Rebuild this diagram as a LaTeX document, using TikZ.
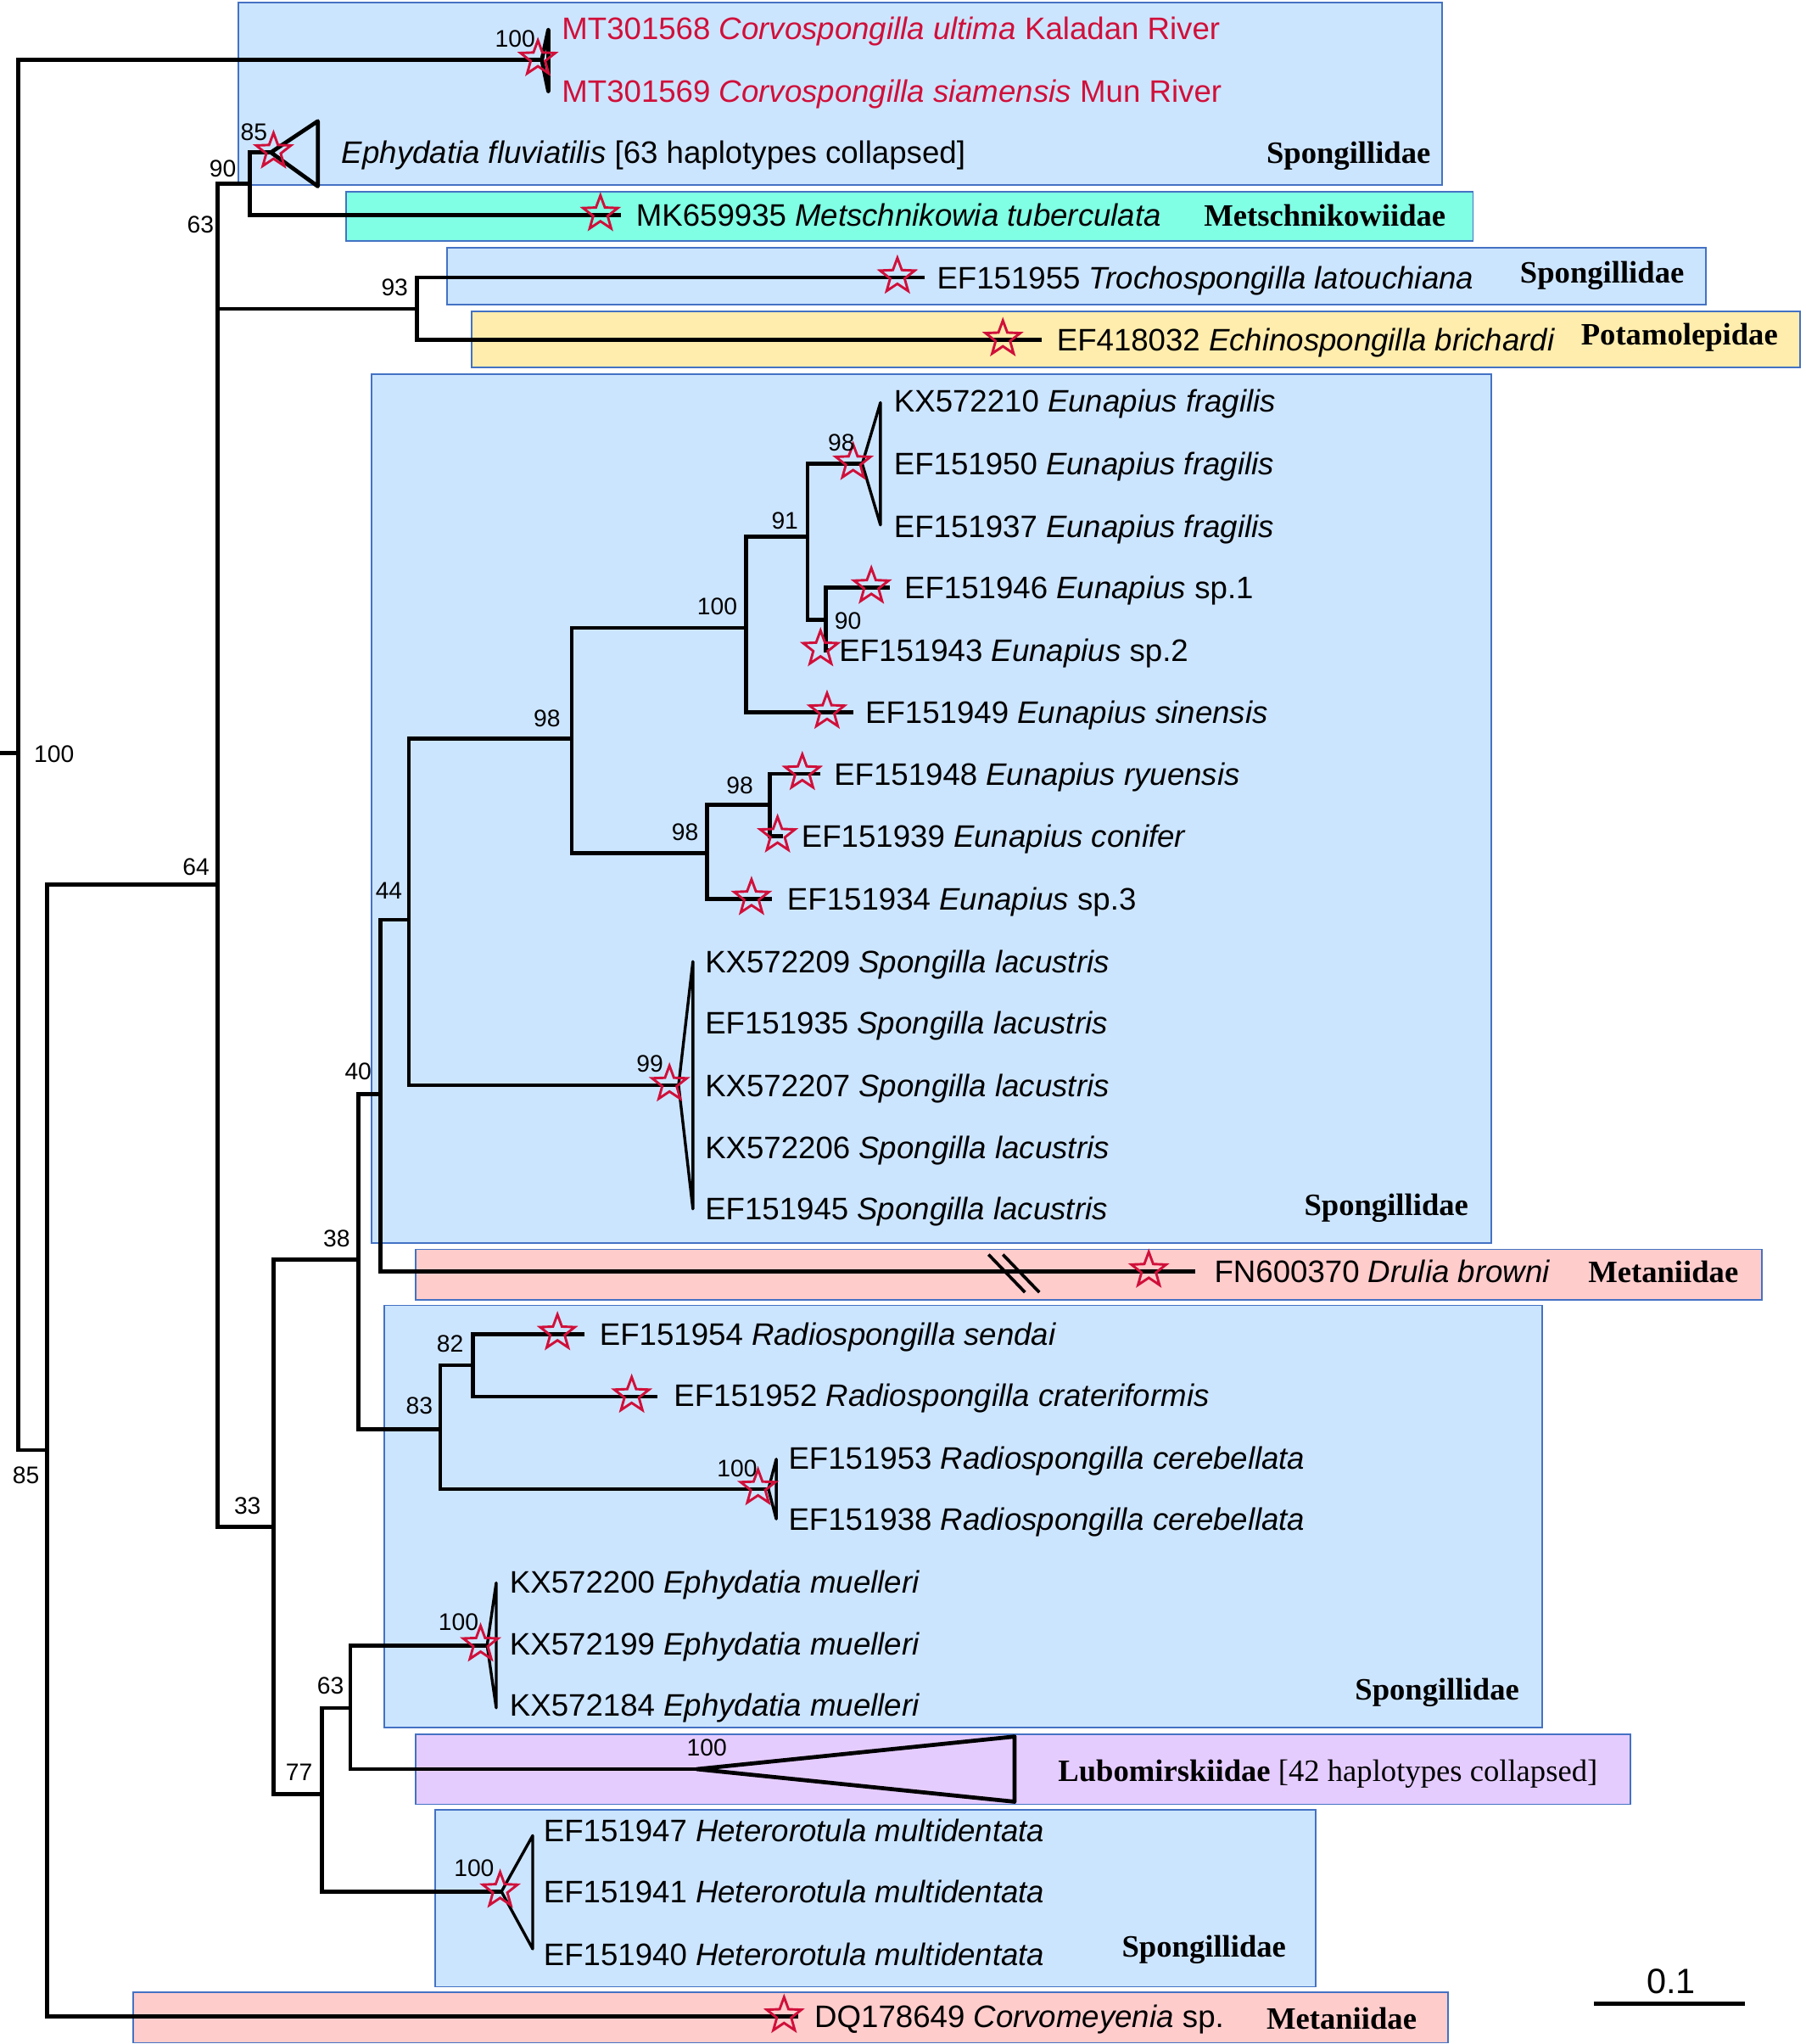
\documentclass[tikz,border=0pt]{standalone}
\usepackage{fontspec}
\setmainfont{Liberation Sans}
\newfontfamily\seriffam{Liberation Serif}
\usetikzlibrary{shapes.geometric}
\definecolor{boxblue}{RGB}{204,229,255}
\definecolor{boxedge}{RGB}{68,114,196}
\definecolor{boxcyan}{RGB}{128,255,229}
\definecolor{boxyellow}{RGB}{255,237,173}
\definecolor{boxpink}{RGB}{255,204,204}
\definecolor{boxlav}{RGB}{229,204,255}
\definecolor{starred}{RGB}{208,16,58}
\begin{document}
\begin{tikzpicture}[x=0.5pt,y=-0.5pt,
  famboxstyle/.style={draw=boxedge,line width=0.6pt},
  branch/.style={line width=1.55pt,line join=miter},
  tri/.style={line width=1.55pt,line join=round},
  thintri/.style={line width=1.1pt,line join=round},
  leaf/.style={anchor=base west,inner sep=0pt,font=\fontsize{11.93pt}{14pt}\selectfont},
  redleaf/.style={leaf,text=starred},
  boot/.style={anchor=base,inner sep=0pt,font=\fontsize{9.2pt}{11pt}\selectfont},
  famlabel/.style={anchor=base west,inner sep=0pt,font=\seriffam\bfseries\fontsize{11.93pt}{14pt}\selectfont},
  starmark/.style={star,star points=5,star point ratio=2.4,draw=starred,line width=0.95pt,minimum size=14pt,inner sep=0pt}]
\useasboundingbox (0,0) rectangle (1386,1569);
% family boxes
\path[famboxstyle,fill=boxblue] (183,2) rectangle (1107,142);
\path[famboxstyle,fill=boxcyan] (266,147) rectangle (1131,185);
\path[famboxstyle,fill=boxblue] (343,190) rectangle (1310,234);
\path[famboxstyle,fill=boxyellow] (362,239) rectangle (1382,282);
\path[famboxstyle,fill=boxblue] (285,287) rectangle (1145,954);
\path[famboxstyle,fill=boxpink] (319,959) rectangle (1353,998);
\path[famboxstyle,fill=boxblue] (295,1002) rectangle (1184,1326);
\path[famboxstyle,fill=boxlav] (319,1331) rectangle (1252,1385);
\path[famboxstyle,fill=boxblue] (334,1389) rectangle (1010,1525);
\path[famboxstyle,fill=boxpink] (102,1529) rectangle (1112,1568);
% family labels
\node[famlabel] (f1) at (972,125.5) {Spongillidae};
\node[famlabel] (f2) at (924,173.7) {Metschnikowiidae};
\node[famlabel] (f3) at (1166.7,217) {Spongillidae};
\node[famlabel] (f4) at (1213.5,265) {Potamolepidae};
\node[famlabel] (f5) at (1001,933) {Spongillidae};
\node[famlabel] (f6) at (1219,984.6) {Metaniidae};
\node[famlabel] (f7) at (1040,1304.6) {Spongillidae};
\node[famlabel] (f8) at (861,1502.4) {Spongillidae};
\node[famlabel] (f9) at (972,1557.7) {Metaniidae};
% coordinates of tree nodes
\coordinate (rootstub) at (0,578);
\coordinate (root) at (14,578);
\coordinate (C100) at (416,46);
\coordinate (corvoT) at (421,23);
\coordinate (corvoB) at (421,70);
\coordinate (N85) at (36,1113);
\coordinate (N64) at (167,679);
\coordinate (DQtip) at (613,1548);
\coordinate (N63) at (167,189);
\coordinate (N90) at (192,141);
\coordinate (N93) at (320,237);
\coordinate (N33) at (210,1172);
\coordinate (EfApex) at (208,117);
\coordinate (EfT) at (244,93);
\coordinate (EfB) at (244,143);
\coordinate (MKtip) at (477,165);
\coordinate (T55tip) at (710,213);
\coordinate (T32tip) at (800,261);
\coordinate (N38) at (275,967);
\coordinate (N77) at (247,1377);
\coordinate (N40) at (292,840);
\coordinate (N83) at (338,1097);
\coordinate (N44) at (314,706);
\coordinate (DRtip) at (918,976);
\coordinate (N98a) at (439,567);
\coordinate (SLapex) at (521,833);
\coordinate (SLT) at (532,738);
\coordinate (SLB) at (532,928);
\coordinate (N100) at (573,482);
\coordinate (N98b) at (543,655);
\coordinate (N91) at (620,412);
\coordinate (E49tip) at (655,547);
\coordinate (FRapex) at (662,356);
\coordinate (FRT) at (676,309);
\coordinate (FRB) at (676,403);
\coordinate (N90b) at (634,476);
\coordinate (E46tip) at (683,451);
\coordinate (E43tip) at (636,499);
\coordinate (N98c) at (591,618);
\coordinate (E34tip) at (593,690);
\coordinate (E48tip) at (630,594);
\coordinate (E39tip) at (601,642);
\coordinate (N82) at (363,1048);
\coordinate (RCapex) at (590,1143);
\coordinate (RCT) at (596,1120);
\coordinate (RCB) at (596,1166);
\coordinate (E54tip) at (449,1024);
\coordinate (E52tip) at (505,1072);
\coordinate (N63b) at (269,1311);
\coordinate (HMapex) at (385,1452);
\coordinate (HMT) at (409,1409);
\coordinate (HMB) at (409,1496);
\coordinate (EMapex) at (374,1263);
\coordinate (EMT) at (381,1215);
\coordinate (EMB) at (381,1311);
\coordinate (LUapex) at (535,1358);
\coordinate (LUT) at (779,1333);
\coordinate (LUB) at (779,1383);
% branches
\draw[branch] (rootstub) -- (root);
\draw[branch] (C100) -| (root) |- (N85);
\draw[branch] (N64) -| (N85) |- (DQtip);
\draw[branch] (N90) -| (N63) |- (N93);
\draw[branch] (N63) |- (N33);
\draw[branch] (EfApex) -| (N90) |- (MKtip);
\draw[branch] (T55tip) -| (N93) |- (T32tip);
\draw[branch] (N38) -| (N33) |- (N77);
\draw[branch] (N40) -| (N38) |- (N83);
\draw[branch] (N44) -| (N40) |- (DRtip);
\draw[branch] (N98a) -| (N44) |- (SLapex);
\draw[branch] (N100) -| (N98a) |- (N98b);
\draw[branch] (N91) -| (N100) |- (E49tip);
\draw[branch] (FRapex) -| (N91) |- (N90b);
\draw[branch] (E46tip) -| (N90b) |- (E43tip);
\draw[branch] (N98c) -| (N98b) |- (E34tip);
\draw[branch] (E48tip) -| (N98c) |- (E39tip);
\draw[branch] (N82) -| (N83) |- (RCapex);
\draw[branch] (E54tip) -| (N82) |- (E52tip);
\draw[branch] (N63b) -| (N77) |- (HMapex);
\draw[branch] (EMapex) -| (N63b) |- (LUapex);
% collapsed clades
\draw[tri] (C100) -- (corvoT) -- (corvoB) -- cycle;
\draw[tri] (EfApex) -- (EfT) -- (EfB) -- cycle;
\draw[thintri] (FRapex) -- (FRT) -- (FRB) -- cycle;
\draw[thintri] (SLapex) -- (SLT) -- (SLB) -- cycle;
\draw[thintri] (RCapex) -- (RCT) -- (RCB) -- cycle;
\draw[thintri] (EMapex) -- (EMT) -- (EMB) -- cycle;
\draw[tri] (LUapex) -- (LUT) -- (LUB) -- cycle;
\draw[thintri] (HMapex) -- (HMT) -- (HMB) -- cycle;
% break mark on Drulia branch
\coordinate (brA1) at (759,963);
\coordinate (brA2) at (787,992);
\coordinate (brB1) at (770,963);
\coordinate (brB2) at (798,992);
\draw[line width=1.2pt] (brA1) -- (brA2);
\draw[line width=1.2pt] (brB1) -- (brB2);
% stars
\node[starmark] (s1) at (413,45) {};
\node[starmark] (s2) at (210,116) {};
\node[starmark] (s3) at (461,164) {};
\node[starmark] (s4) at (689,212) {};
\node[starmark] (s5) at (770,260) {};
\node[starmark] (s6) at (655,355) {};
\node[starmark] (s7) at (669,450) {};
\node[starmark] (s8) at (630,498) {};
\node[starmark] (s9) at (635,546) {};
\node[starmark] (s10) at (616,593) {};
\node[starmark] (s11) at (597,641) {};
\node[starmark] (s12) at (577,689) {};
\node[starmark] (s13) at (514,832) {};
\node[starmark] (s14) at (882,975) {};
\node[starmark] (s15) at (428,1023) {};
\node[starmark] (s16) at (485,1071) {};
\node[starmark] (s17) at (582,1142) {};
\node[starmark] (s18) at (369,1262) {};
\node[starmark] (s19) at (384,1451) {};
\node[starmark] (s20) at (602,1547) {};
% bootstrap values
\node[boot] (b1) at (395.5,36) {100};
\node[boot] (b2) at (195,107.5) {85};
\node[boot] (b3) at (171,135.7) {90};
\node[boot] (b4) at (154,179) {63};
\node[boot] (b5) at (303,227) {93};
\node[boot] (b6) at (41.5,585) {100};
\node[boot] (b7) at (150.5,672) {64};
\node[boot] (b8) at (298.6,690) {44};
\node[boot] (b9) at (275,828.6) {40};
\node[boot] (b10) at (258.5,957) {38};
\node[boot] (b11) at (345.6,1038) {82};
\node[boot] (b12) at (322,1085.7) {83};
\node[boot] (b13) at (20,1138.6) {85};
\node[boot] (b14) at (190,1162) {33};
\node[boot] (b15) at (646,346) {98};
\node[boot] (b16) at (602.6,406) {91};
\node[boot] (b17) at (550.7,471.6) {100};
\node[boot] (b18) at (651,483) {90};
\node[boot] (b19) at (420,558) {98};
\node[boot] (b20) at (568,609) {98};
\node[boot] (b21) at (526,645) {98};
\node[boot] (b22) at (499,823) {99};
\node[boot] (b23) at (566,1133.5) {100};
\node[boot] (b24) at (352,1251.6) {100};
\node[boot] (b25) at (253.7,1300) {63};
\node[boot] (b26) at (229.6,1366.6) {77};
\node[boot] (b27) at (542.7,1348) {100};
\node[boot] (b28) at (364,1440.5) {100};
% leaf labels
\node[redleaf] (l1) at (431,30.5) {MT301568 \textit{Corvospongilla ultima} Kaladan River};
\node[redleaf] (l2) at (431,78.5) {MT301569 \textit{Corvospongilla siamensis} Mun River};
\node[leaf] (l3) at (262,125.5) {\textit{Ephydatia fluviatilis} [63 haplotypes collapsed]};
\node[leaf] (l4) at (488,173.5) {MK659935 \textit{Metschnikowia tuberculata}};
\node[leaf] (l5) at (719,221.5) {EF151955 \textit{Trochospongilla latouchiana}};
\node[leaf] (l6) at (811,269.5) {EF418032 \textit{Echinospongilla brichardi}};
\node[leaf] (l7) at (686,316.5) {KX572210 \textit{Eunapius fragilis}};
\node[leaf] (l8) at (686,364.5) {EF151950 \textit{Eunapius fragilis}};
\node[leaf] (l9) at (686,412.5) {EF151937 \textit{Eunapius fragilis}};
\node[leaf] (l10) at (694,459.5) {EF151946 \textit{Eunapius} sp.1};
\node[leaf] (l11) at (644,507.5) {EF151943 \textit{Eunapius} sp.2};
\node[leaf] (l12) at (664,555.5) {EF151949 \textit{Eunapius sinensis}};
\node[leaf] (l13) at (640,602.5) {EF151948 \textit{Eunapius ryuensis}};
\node[leaf] (l14) at (615,650.5) {EF151939 \textit{Eunapius conifer}};
\node[leaf] (l15) at (604,698.5) {EF151934 \textit{Eunapius} sp.3};
\node[leaf] (l16) at (541,746.5) {KX572209 \textit{Spongilla lacustris}};
\node[leaf] (l17) at (541,793.5) {EF151935 \textit{Spongilla lacustris}};
\node[leaf] (l18) at (541,841.5) {KX572207 \textit{Spongilla lacustris}};
\node[leaf] (l19) at (541,889.5) {KX572206 \textit{Spongilla lacustris}};
\node[leaf] (l20) at (541,936.5) {EF151945 \textit{Spongilla lacustris}};
\node[leaf] (l21) at (932,984.5) {FN600370 \textit{Drulia browni}};
\node[leaf] (l22) at (460,1032.5) {EF151954 \textit{Radiospongilla sendai}};
\node[leaf] (l23) at (517,1079.5) {EF151952 \textit{Radiospongilla crateriformis}};
\node[leaf] (l24) at (605,1127.5) {EF151953 \textit{Radiospongilla cerebellata}};
\node[leaf] (l25) at (605,1174.5) {EF151938 \textit{Radiospongilla cerebellata}};
\node[leaf] (l26) at (391,1222.5) {KX572200 \textit{Ephydatia muelleri}};
\node[leaf] (l27) at (391,1270.5) {KX572199 \textit{Ephydatia muelleri}};
\node[leaf] (l28) at (391,1317.5) {KX572184 \textit{Ephydatia muelleri}};
\node[famlabel] (l29) at (812,1367.7) {Lubomirskiidae \mdseries [42 haplotypes collapsed]};
\node[leaf] (l30) at (417,1413.5) {EF151947 \textit{Heterorotula multidentata}};
\node[leaf] (l31) at (417,1460.5) {EF151941 \textit{Heterorotula multidentata}};
\node[leaf] (l32) at (417,1508.5) {EF151940 \textit{Heterorotula multidentata}};
\node[leaf] (l33) at (625,1556.5) {DQ178649 \textit{Corvomeyenia} sp.};
% scale bar
\coordinate (sbL) at (1224,1538);
\coordinate (sbR) at (1340,1538);
\draw[line width=1.75pt] (sbL) -- (sbR);
\node[anchor=base,inner sep=0pt,font=\fontsize{13.5pt}{16pt}\selectfont] (sbl) at (1283,1530) {0.1};
\end{tikzpicture}
\end{document}
